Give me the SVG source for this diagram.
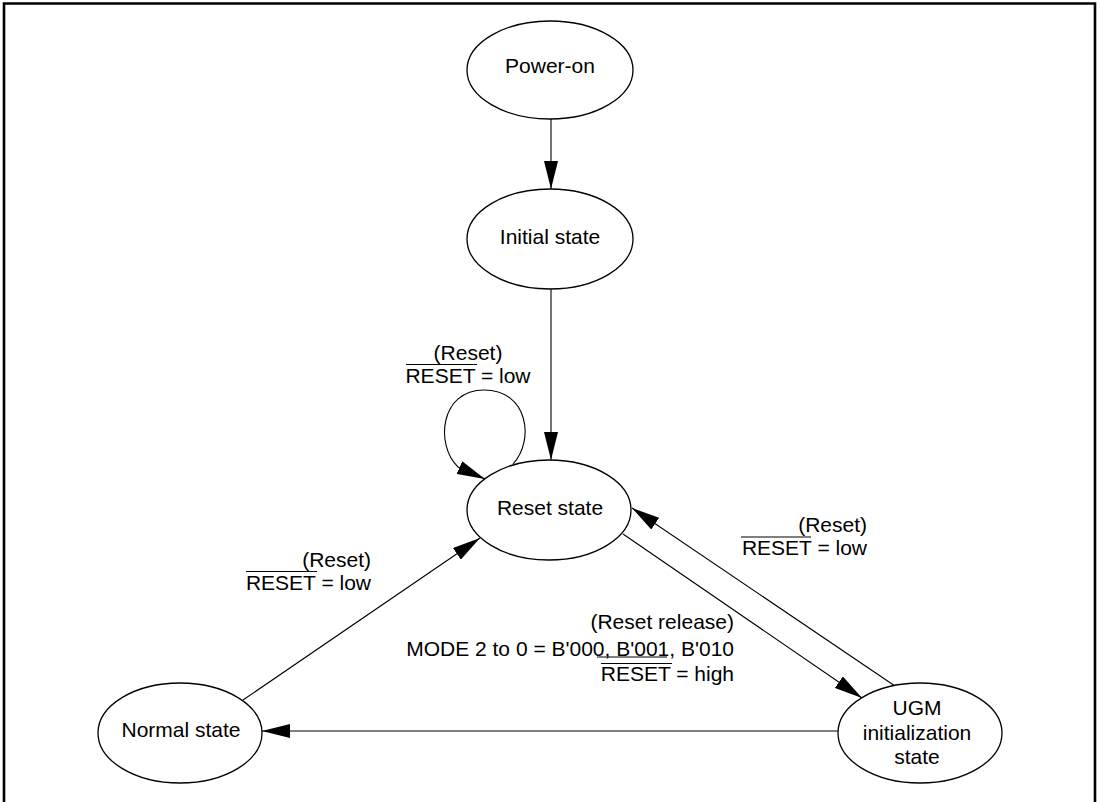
<svg xmlns="http://www.w3.org/2000/svg" width="1100" height="802" viewBox="0 0 1100 802">
<defs>
<style>
.node ellipse{fill:#fff;stroke:#000;stroke-width:1.3}
text{font-family:"Liberation Sans",Arial,sans-serif;font-size:21px;fill:#000}
.c{text-anchor:middle}
.r{text-anchor:end}
.edge{fill:none;stroke:#000;stroke-width:1.1}
.ov{stroke:#000;stroke-width:1.1}
</style>
<marker id="ah" markerUnits="userSpaceOnUse" markerWidth="28" markerHeight="14" refX="28" refY="7" orient="auto">
<path d="M0,0 L28,7 L0,14 z" fill="#000"/>
</marker>
</defs>
<rect x="0" y="0" width="1100" height="802" fill="#fff"/>
<path d="M4,806 V3.5 H1095 V806" fill="none" stroke="#000" stroke-width="2.6"/>

<g id="connectors">
<path class="edge" d="M551,119 V189" marker-end="url(#ah)"/>
<path class="edge" d="M551,289 V460" marker-end="url(#ah)"/>
<path class="edge" d="M513,464 C535,440 528,390 484,390 C440,390 435,445 458,467 L485,479" marker-end="url(#ah)"/>
<path class="edge" d="M243,700 L480,538" marker-end="url(#ah)"/>
<path class="edge" d="M623,534 L862,698" marker-end="url(#ah)"/>
<path class="edge" d="M895,686 L632,508" marker-end="url(#ah)"/>
<path class="edge" d="M838,731 L262,731" marker-end="url(#ah)"/>
</g>

<g id="power-on" class="node">
<ellipse cx="550" cy="70" rx="83" ry="49"/>
<text class="c" x="550" y="73">Power-on</text>
</g>
<g id="initial-state" class="node">
<ellipse cx="550" cy="239" rx="83" ry="50"/>
<text class="c" x="550" y="244">Initial state</text>
</g>
<g id="reset-state" class="node">
<ellipse cx="549" cy="510" rx="82" ry="50"/>
<text class="c" x="550" y="515">Reset state</text>
</g>
<g id="normal-state" class="node">
<ellipse cx="180" cy="733" rx="82" ry="50"/>
<text class="c" x="181" y="737">Normal state</text>
</g>
<g id="ugm-state" class="node">
<ellipse cx="920" cy="733" rx="82" ry="50"/>
<text class="c" x="917" y="715">UGM</text>
<text class="c" x="917" y="740">initialization</text>
<text class="c" x="917" y="764">state</text>
</g>

<g id="labels">
<text class="c" x="468" y="360">(Reset)</text>
<text class="c" x="468" y="383">RESET = low</text>
<line class="ov" x1="406" y1="364.5" x2="477" y2="364.5"/>

<text class="r" x="371" y="567">(Reset)</text>
<text class="r" x="371" y="590">RESET = low</text>
<line class="ov" x1="246" y1="571.5" x2="317" y2="571.5"/>

<text class="r" x="867" y="532">(Reset)</text>
<text class="r" x="867" y="555">RESET = low</text>
<line class="ov" x1="741" y1="537" x2="811" y2="537"/>

<text class="r" x="734" y="629">(Reset release)</text>
<text class="r" x="734" y="656">MODE 2 to 0 = B'000, B'001, B'010</text>
<line class="ov" x1="597" y1="657" x2="667" y2="657"/>
<text class="r" x="734" y="681">RESET = high</text>
<line class="ov" x1="601" y1="663.5" x2="672" y2="663.5"/>
</g>
</svg>
